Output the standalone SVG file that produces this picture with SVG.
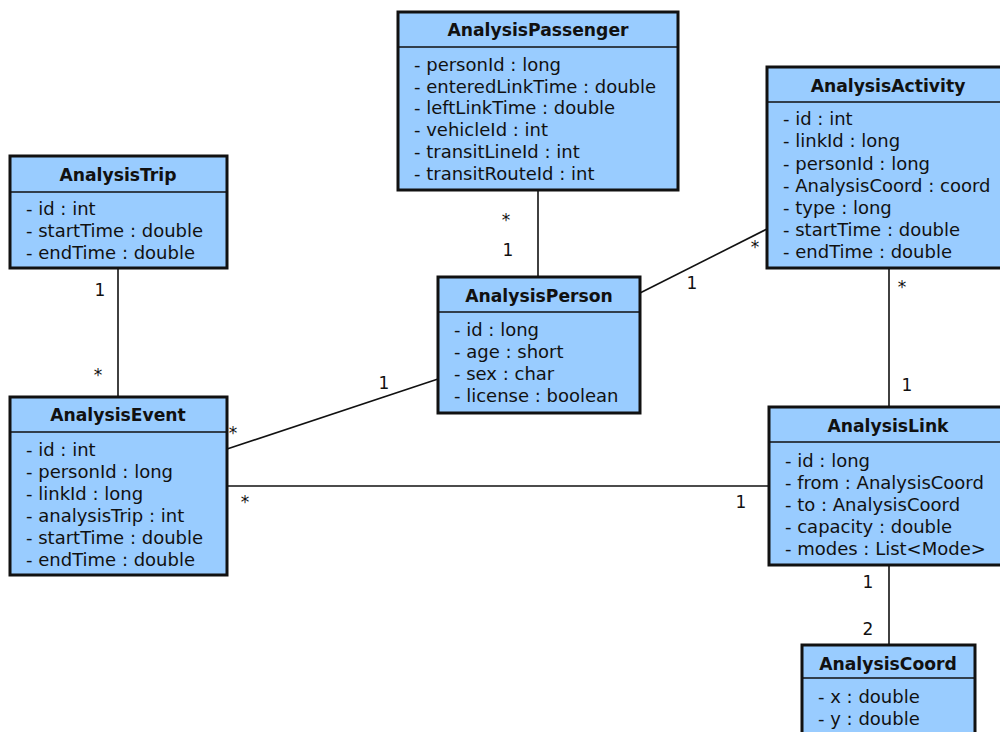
<svg xmlns="http://www.w3.org/2000/svg" width="1000" height="732" viewBox="0 0 1000 732">
  <style>
    .box { fill: #99ccff; stroke: #111; stroke-width: 3; }
    .div { stroke: #111; stroke-width: 1.5; }
    .title { font-family: "DejaVu Sans", sans-serif; font-weight: bold; font-size: 17.2px; fill: #111; text-anchor: middle; }
    .attr { font-family: "DejaVu Sans", sans-serif; font-size: 18px; fill: #111; }
    .edge { stroke: #111; stroke-width: 1.6; fill: none; }
    .mult { font-family: "DejaVu Sans", sans-serif; font-size: 17px; fill: #111; text-anchor: middle; }
  </style>
  <rect width="1000" height="732" fill="#fff"/>

  <!-- associations -->
  <g id="connectors">
    <line class="edge" x1="538" y1="190" x2="538" y2="277"/>
    <line class="edge" x1="640" y1="293" x2="767" y2="229"/>
    <line class="edge" x1="889" y1="268" x2="889" y2="407"/>
    <line class="edge" x1="118" y1="268" x2="118" y2="397"/>
    <line class="edge" x1="227" y1="449" x2="438" y2="379"/>
    <line class="edge" x1="227" y1="486" x2="769" y2="486"/>
    <line class="edge" x1="889" y1="565" x2="889" y2="645"/>
    <text class="mult" x="506" y="226">*</text>
    <text class="mult" x="508" y="256">1</text>
    <text class="mult" x="755" y="253">*</text>
    <text class="mult" x="692" y="289">1</text>
    <text class="mult" x="902" y="293">*</text>
    <text class="mult" x="907" y="391">1</text>
    <text class="mult" x="100" y="296">1</text>
    <text class="mult" x="98" y="381">*</text>
    <text class="mult" x="233" y="439">*</text>
    <text class="mult" x="384" y="389">1</text>
    <text class="mult" x="245" y="508">*</text>
    <text class="mult" x="741" y="508">1</text>
    <text class="mult" x="868" y="588">1</text>
    <text class="mult" x="868" y="635">2</text>
  </g>

  <g id="AnalysisPassenger">
    <rect class="box" x="398" y="12" width="280" height="178"/>
    <line class="div" x1="398" y1="47" x2="678" y2="47"/>
    <text class="title" x="538" y="36">AnalysisPassenger</text>
    <text class="attr" x="414" y="71">- personId : long</text>
    <text class="attr" x="414" y="93">- enteredLinkTime : double</text>
    <text class="attr" x="414" y="114">- leftLinkTime : double</text>
    <text class="attr" x="414" y="136">- vehicleId : int</text>
    <text class="attr" x="414" y="158">- transitLineId : int</text>
    <text class="attr" x="414" y="180">- transitRouteId : int</text>
  </g>

  <g id="AnalysisActivity">
    <rect class="box" x="767" y="67" width="240" height="201"/>
    <line class="div" x1="767" y1="102" x2="1007" y2="102"/>
    <text class="title" x="888" y="92">AnalysisActivity</text>
    <text class="attr" x="783" y="125">- id : int</text>
    <text class="attr" x="783" y="147">- linkId : long</text>
    <text class="attr" x="783" y="170">- personId : long</text>
    <text class="attr" x="783" y="192">- AnalysisCoord : coord</text>
    <text class="attr" x="783" y="214">- type : long</text>
    <text class="attr" x="783" y="236">- startTime : double</text>
    <text class="attr" x="783" y="258">- endTime : double</text>
  </g>

  <g id="AnalysisTrip">
    <rect class="box" x="10" y="156" width="217" height="112"/>
    <line class="div" x1="10" y1="192" x2="227" y2="192"/>
    <text class="title" x="118" y="181">AnalysisTrip</text>
    <text class="attr" x="26" y="215">- id : int</text>
    <text class="attr" x="26" y="237">- startTime : double</text>
    <text class="attr" x="26" y="259">- endTime : double</text>
  </g>

  <g id="AnalysisPerson">
    <rect class="box" x="438" y="277" width="202" height="136"/>
    <line class="div" x1="438" y1="312" x2="640" y2="312"/>
    <text class="title" x="539" y="302">AnalysisPerson</text>
    <text class="attr" x="454" y="336">- id : long</text>
    <text class="attr" x="454" y="358">- age : short</text>
    <text class="attr" x="454" y="380">- sex : char</text>
    <text class="attr" x="454" y="402">- license : boolean</text>
  </g>

  <g id="AnalysisEvent">
    <rect class="box" x="10" y="397" width="217" height="178"/>
    <line class="div" x1="10" y1="432" x2="227" y2="432"/>
    <text class="title" x="118" y="421">AnalysisEvent</text>
    <text class="attr" x="26" y="456">- id : int</text>
    <text class="attr" x="26" y="478">- personId : long</text>
    <text class="attr" x="26" y="500">- linkId : long</text>
    <text class="attr" x="26" y="522">- analysisTrip : int</text>
    <text class="attr" x="26" y="544">- startTime : double</text>
    <text class="attr" x="26" y="566">- endTime : double</text>
  </g>

  <g id="AnalysisLink">
    <rect class="box" x="769" y="407" width="238" height="158"/>
    <line class="div" x1="769" y1="442" x2="1007" y2="442"/>
    <text class="title" x="888" y="432">AnalysisLink</text>
    <text class="attr" x="785" y="467">- id : long</text>
    <text class="attr" x="785" y="489">- from : AnalysisCoord</text>
    <text class="attr" x="785" y="511">- to : AnalysisCoord</text>
    <text class="attr" x="785" y="533">- capacity : double</text>
    <text class="attr" x="785" y="555">- modes : List&lt;Mode&gt;</text>
  </g>

  <g id="AnalysisCoord">
    <rect class="box" x="802" y="645" width="173" height="100"/>
    <line class="div" x1="802" y1="678" x2="975" y2="678"/>
    <text class="title" x="888" y="670">AnalysisCoord</text>
    <text class="attr" x="818" y="703">- x : double</text>
    <text class="attr" x="818" y="725">- y : double</text>
  </g>
</svg>
